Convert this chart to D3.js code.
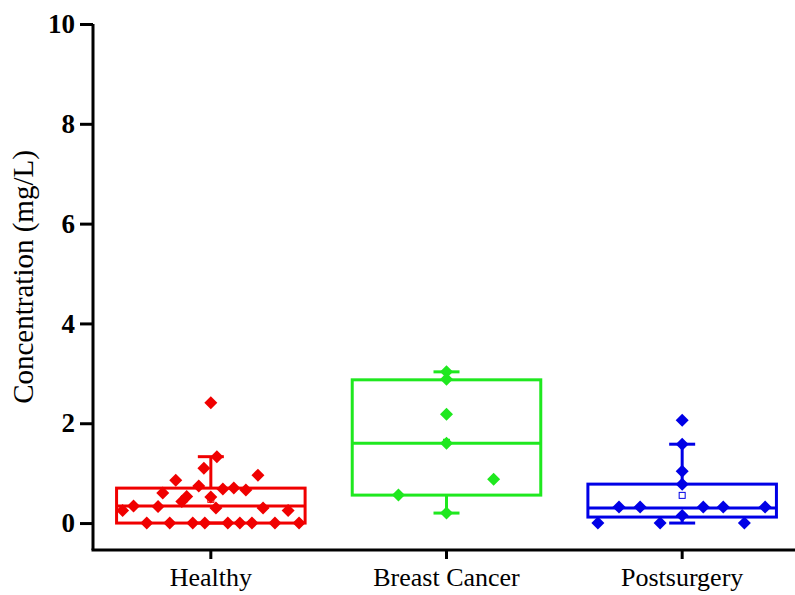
<!DOCTYPE html>
<html>
<head>
<meta charset="utf-8">
<script src="https://cdn.jsdelivr.net/npm/d3@7"></script>
<style>
  html, body { margin: 0; padding: 0; background: #fff; }
  svg { display: block; }
  text { font-family: "Times New Roman", "Liberation Serif", serif; }
</style>
</head>
<body>
<svg id="chart" width="795" height="595"></svg>
<script>
// ---------- data ----------
const categories = ["Healthy", "Breast Cancer", "Postsurgery"];

const healthyValues = [2.41, 1.33, 1.10, 0.96, 0.86, 0.74, 0.70, 0.68, 0.66, 0.60, 0.53, 0.52, 0.43, 0.34, 0.33, 0.30, 0.30, 0.25, 0.25,
                       0, 0, 0, 0, 0, 0, 0, 0, 0];
const healthyJitter = [0, 0.032, -0.037, 0.25, -0.186, -0.064, 0.122, 0.064, 0.186, -0.255, -0.128, 0, -0.154, -0.41, -0.28, 0.027, 0.277, -0.468, 0.41,
                       -0.34, -0.218, -0.096, -0.032, 0.09, 0.154, 0.218, 0.34, 0.468];

const cancerValues = [3.03, 2.88, 2.18, 1.60, 0.88, 0.56, 0.20];
const cancerJitter = [0, 0, 0, 0, 0.25, -0.255, 0];

const postValues = [2.06, 1.58, 1.04, 0.78, 0.15, 0.32, 0.32, 0.32, 0.32, 0.32, 0, 0, 0];
const postJitter = [0, 0, 0, 0, 0, -0.335, -0.223, 0.112, 0.218, 0.44, -0.447, -0.117, 0.33];

const boxQ1 = [0, 0.56, 0.12];
const boxMedian = [0.34, 1.60, 0.30];
const boxQ3 = [0.70, 2.87, 0.78];
const whiskerLow = [0, 0.20, 0];
const whiskerHigh = [1.33, 3.03, 1.58];

const yTicks = [0, 2, 4, 6, 8, 10];
const yTitle = "Concentration (mg/L)";
const colors = ["#f00000", "#1fe81f", "#0000e6"];

// ---------- chart ----------
const svg = d3.select("#chart");
const groups = categories.map((c, i) => ({
  name: c,
  values: [healthyValues, cancerValues, postValues][i],
  jitter: [healthyJitter, cancerJitter, postJitter][i],
  q1: boxQ1[i], med: boxMedian[i], q3: boxQ3[i],
  lo: whiskerLow[i], hi: whiskerHigh[i],
  color: colors[i]
}));

const x = d3.scaleBand().domain(categories).range([93, 800]).paddingInner(0).paddingOuter(0);
const y = d3.scaleLinear().domain([-0.54, 10]).range([550, 24]);
const boxW = x.bandwidth() * 0.8;
const capW = 26;
const cx = c => x(c) + x.bandwidth() / 2;

// boxes
const g = svg.append("g");
groups.forEach(d => {
  const gg = g.append("g").attr("stroke", d.color).attr("stroke-width", 3).attr("fill", "none");
  const c = cx(d.name);
  gg.append("line").attr("x1", c).attr("x2", c).attr("y1", y(d.q3)).attr("y2", y(d.hi));
  gg.append("line").attr("x1", c).attr("x2", c).attr("y1", y(d.q1)).attr("y2", y(d.lo));
  gg.append("line").attr("x1", c - capW / 2).attr("x2", c + capW / 2).attr("y1", y(d.hi)).attr("y2", y(d.hi));
  gg.append("line").attr("x1", c - capW / 2).attr("x2", c + capW / 2).attr("y1", y(d.lo)).attr("y2", y(d.lo));
  gg.append("rect").attr("x", c - boxW / 2).attr("width", boxW)
    .attr("y", y(d.q3)).attr("height", y(d.q1) - y(d.q3));
  gg.append("line").attr("x1", c - boxW / 2).attr("x2", c + boxW / 2)
    .attr("y1", y(d.med)).attr("y2", y(d.med));
});

// points
const r = 6.5;
const diamond = `M0,${-r}L${r},0L0,${r}L${-r},0Z`;
groups.forEach(d => {
  const c = cx(d.name);
  g.append("g").selectAll("path").data(d.values.map((v, i) => ({ v, j: d.jitter[i] })))
    .join("path")
    .attr("d", diamond)
    .attr("fill", d.color)
    .attr("transform", p => `translate(${c + p.j * boxW},${y(p.v)})`);
});

// mean markers
groups.forEach(d => {
  const m = d3.mean(d.values);
  g.append("rect").attr("x", cx(d.name) - 3).attr("y", y(m) - 3)
    .attr("width", 6).attr("height", 6)
    .attr("fill", "none").attr("stroke", d.color).attr("stroke-width", 1);
});

// axes
const yAxis = svg.append("g").attr("transform", "translate(93,0)")
  .call(d3.axisLeft(y).tickValues(yTicks).tickFormat(d3.format("d")).tickSizeInner(13).tickSizeOuter(0).tickPadding(5));
yAxis.select(".domain").attr("stroke-width", 3).attr("d", `M0,${y(10)}V${y(-0.54)}`);
yAxis.selectAll(".tick line").attr("stroke-width", 3);
yAxis.selectAll(".tick text").attr("font-size", 27).attr("font-weight", "bold")
  .attr("font-family", "'Times New Roman','Liberation Serif',serif").attr("fill", "#000");

const xAxis = svg.append("g").attr("transform", `translate(0,${y(-0.54)})`)
  .call(d3.axisBottom(x).tickSizeInner(9).tickSizeOuter(0).tickPadding(9));
xAxis.select(".domain").attr("stroke-width", 3).attr("d", `M91.5,0H795`);
xAxis.selectAll(".tick line").attr("stroke-width", 3);
xAxis.selectAll(".tick text").attr("font-size", 26)
  .attr("font-family", "'Times New Roman','Liberation Serif',serif").attr("fill", "#000");

svg.append("text")
  .attr("transform", `translate(33,${277}) rotate(-90)`)
  .attr("text-anchor", "middle")
  .attr("font-size", 29)
  .attr("fill", "#000")
  .text(yTitle);
</script>
</body>
</html>
